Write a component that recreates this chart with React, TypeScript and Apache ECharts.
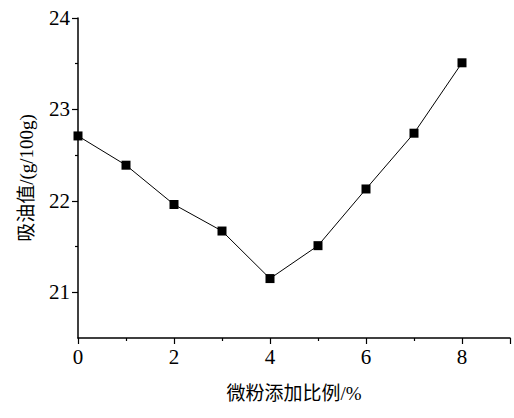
import { useEffect, useRef } from 'react';
import * as echarts from 'echarts';

const ratios = [0, 1, 2, 3, 4, 5, 6, 7, 8];
const oilAbsorption = [22.71, 22.39, 21.96, 21.67, 21.15, 21.51, 22.13, 22.74, 23.51];
const yMajorTicks = [21, 22, 23, 24];
const yMinorTicks = [21.5, 22.5, 23.5];

const NUM_FONT = 'Liberation Serif';
const NAME_FONT = 'Liberation Serif, Noto Sans CJK SC, serif';

const App: React.FC = () => {
  const chartRef = useRef<HTMLDivElement>(null);

  useEffect(() => {
    if (!chartRef.current) return;
    const chart = echarts.init(chartRef.current, null, { renderer: 'svg' });

    const baseY = {
      type: 'value' as const,
      position: 'left' as const,
      min: 20.5,
      max: 24,
      interval: 0.5,
      splitLine: { show: false },
    };

    const option = {
      animation: false,
      backgroundColor: '#ffffff',
      grid: { left: 78, right: 4, top: 18, bottom: 80 },
      xAxis: {
        type: 'value' as const,
        min: 0,
        max: 9,
        interval: 2,
        name: '微粉添加比例/%',
        nameLocation: 'middle' as const,
        nameGap: 46,
        nameTextStyle: { color: '#000', fontSize: 19, fontFamily: NAME_FONT },
        axisLine: { onZero: false, lineStyle: { color: '#000', width: 1.5 } },
        axisTick: { show: true, inside: false, length: 6, lineStyle: { color: '#000', width: 1.2 } },
        minorTick: { show: true, splitNumber: 2, length: 3, lineStyle: { color: '#000', width: 1.2 } },
        axisLabel: {
          color: '#000',
          fontSize: 21,
          fontFamily: NUM_FONT,
          margin: 8,
          formatter: (v: number) => (v > 8 ? '' : String(v)),
        },
        splitLine: { show: false },
      },
      yAxis: [
        {
          ...baseY,
          name: '吸油值/(g/100g)',
          nameLocation: 'middle' as const,
          nameGap: 42,
          nameTextStyle: { color: '#000', fontSize: 19, fontFamily: NAME_FONT },
          axisLine: { show: true, onZero: false, lineStyle: { color: '#000', width: 1.5 } },
          axisTick: {
            show: true,
            inside: false,
            length: 6,
            customValues: yMajorTicks,
            lineStyle: { color: '#000', width: 1.2 },
          },
          axisLabel: {
            color: '#000',
            fontSize: 21,
            fontFamily: NUM_FONT,
            margin: 8,
            customValues: yMajorTicks,
          },
        },
        {
          ...baseY,
          axisLine: { show: false, onZero: false },
          axisTick: {
            show: true,
            inside: false,
            length: 3,
            customValues: yMinorTicks,
            lineStyle: { color: '#000', width: 1.2 },
          },
          axisLabel: { show: false },
        },
      ],
      series: [
        {
          type: 'line' as const,
          data: ratios.map((r, i) => [r, oilAbsorption[i]]),
          symbol: 'rect',
          symbolSize: 9,
          itemStyle: { color: '#000' },
          lineStyle: { color: '#000', width: 1 },
        },
      ],
    };

    chart.setOption(option);
    return () => chart.dispose();
  }, []);

  return (
    <div
      ref={chartRef}
      style={{ position: 'fixed', left: 0, top: 0, width: 514, height: 418 }}
    />
  );
};

export default App;
